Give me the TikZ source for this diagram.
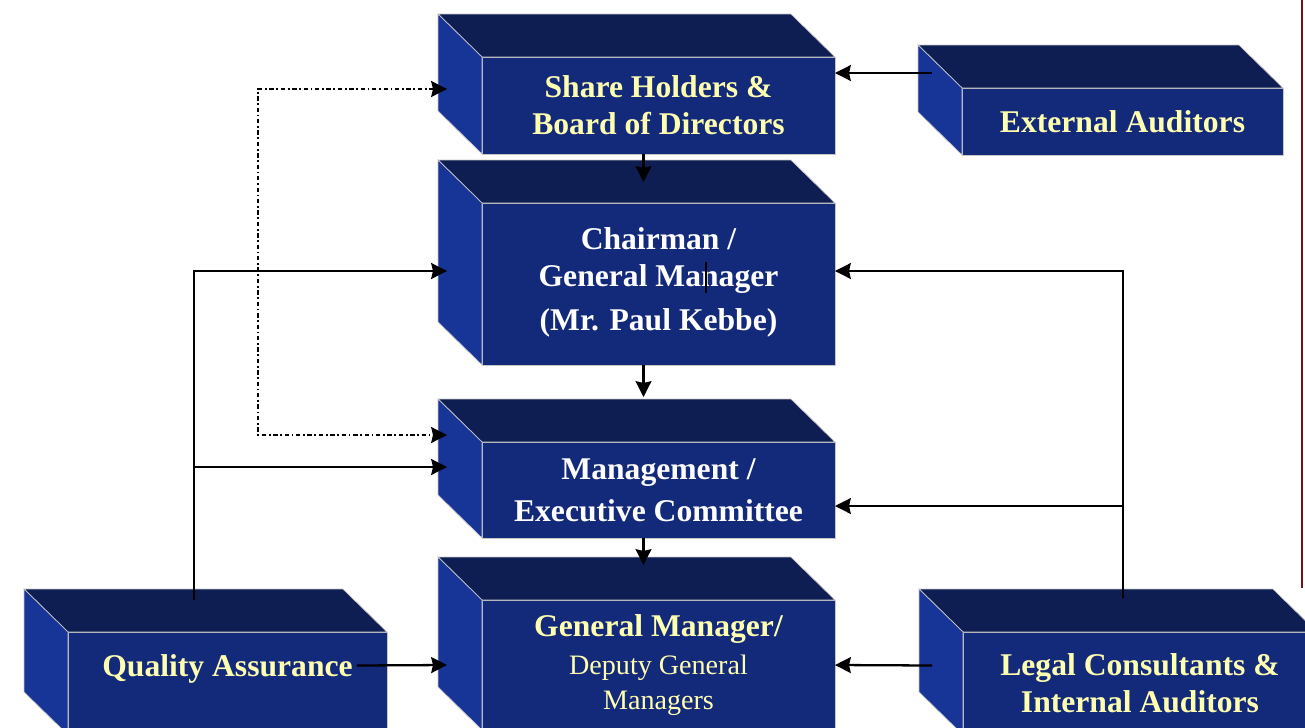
\documentclass[tikz,border=0pt]{standalone}
\usepackage{fontspec}
\setmainfont{Liberation Serif}
\usetikzlibrary{arrows.meta,positioning,calc}

\definecolor{frontblue}{RGB}{19,41,122}
\definecolor{topblue}{RGB}{14,29,82}
\definecolor{sideblue}{RGB}{23,53,150}
\definecolor{paleyellow}{RGB}{255,255,176}
\definecolor{borderred}{RGB}{110,20,20}

\tikzset{
    block/.style={fill=frontblue, draw=gray!45, line width=0.4pt, inner sep=0pt, outer sep=0pt,
        align=center, text=paleyellow, font=\fontsize{18}{21}\selectfont\bfseries},
    whitetext/.style={text=white},
    tip/.style={Stealth[length=9pt,width=9pt,inset=1pt]},
    link/.style={line width=1.3pt, -{Stealth[length=9pt,width=9pt,inset=1pt]}},
    dotlink/.style={line width=1.3pt, dash pattern=on 2.5pt off 1.5pt on 1pt off 1.5pt,
        {Stealth[length=9pt,width=9pt,inset=1pt]}-{Stealth[length=9pt,width=9pt,inset=1pt]}}
}

% top and left faces behind a front face node
\newcommand{\blockdepth}[1]{%
    \filldraw[topblue, draw=gray!45, line width=0.4pt] (#1.north west) -- ++(-44,-43)
        -- ([shift={(-44,-43)}]#1.north east) -- (#1.north east) -- cycle;
    \filldraw[sideblue, draw=gray!45, line width=0.4pt] (#1.north west) -- ++(-44,-43)
        -- ([shift={(-44,-43)}]#1.south west) -- (#1.south west) -- cycle;
}

\begin{document}
\begin{tikzpicture}[x=0.02cm, y=-0.02cm]
    \useasboundingbox (0,0) rectangle (1305,727);
    \clip (0,0) rectangle (1305,727);

    \node[block, minimum width=7.06cm, minimum height=1.94cm] (board) at (658.5,105.5)
        {Share Holders \&\\Board of Directors};
    \node[block, whitetext, minimum width=7.06cm, minimum height=3.24cm] (chair) at (658.5,284)
        {Chairman /\\General Manager\\[4pt](Mr. Paul Kebbe)\\[-15pt]\mbox{}};
    \node[block, whitetext, minimum width=7.06cm, minimum height=1.92cm] (mgmt) at (658.5,490)
        {Management /\\[3pt]Executive Committee};
    \node[block, minimum width=7.06cm, minimum height=2.6cm] (gm) at (658.5,665)
        {General Manager/\\[1pt]{\mdseries\fontsize{16}{19}\selectfont Deputy General}\\[-1pt]
         {\mdseries\fontsize{16}{19}\selectfont Managers}};
    \node[block, minimum width=6.42cm, minimum height=1.34cm] (extaud) at (1122.5,121.5)
        {External Auditors};
    \node[block, minimum width=6.38cm, minimum height=2.06cm] (qa) at (227.5,683.5)
        {Quality Assurance\\\mbox{}};
    \node[block, minimum width=7.08cm, minimum height=2.06cm] (legal) at (1140,683.5)
        {Legal Consultants \&\\Internal Auditors};

    \blockdepth{board}
    \blockdepth{chair}
    \blockdepth{mgmt}
    \blockdepth{gm}
    \blockdepth{extaud}
    \blockdepth{qa}
    \blockdepth{legal}

    \draw[line width=0.8pt] ([shift={(47.5,-22)}]chair.center) -- ++(0,31);

    % down the middle
    \draw[link] ([shift={(-15,0)}]board.south) -- ([shift={(-15,-21)}]chair.north);
    \draw[link] ([shift={(-15,0)}]chair.south) -- ([shift={(-15,-45)}]mgmt.north);
    \draw[link] ([shift={(-15,0)}]mgmt.south) -- ([shift={(-15,-35)}]gm.north);

    % auditors
    \coordinate (ext out) at ([shift={(-30,-48.5)}]extaud.west);
    \draw[link] (ext out) -- (ext out -| board.east);

    \draw[dotlink] ([shift={(-35,-16.5)}]board.west) -| (258,435) -- ([shift={(-35,-55)}]mgmt.west);

    % quality assurance
    \coordinate (qa up) at ([shift={(-33.5,-32)}]qa.north);
    \draw[link] (qa up) |- ([shift={(-35,-13)}]chair.west);
    \draw[link] (qa up) |- ([shift={(-35,-23)}]mgmt.west);
    \draw[link] ([shift={(-30,-18)}]qa.east) -- ([shift={(-35,0)}]gm.west);

    % legal consultants
    \coordinate (legal up) at ([shift={(-17,-34)}]legal.north);
    \draw[link] (legal up) |- ([shift={(0,-13)}]chair.east);
    \draw[link] (legal up) |- ([shift={(0,16)}]mgmt.east);
    \draw[link] ([shift={(-31,-18)}]legal.west) -- (gm.east);

    \draw[borderred, line width=1.5pt] (1302,0) -- (1302,588);
\end{tikzpicture}
\end{document}
